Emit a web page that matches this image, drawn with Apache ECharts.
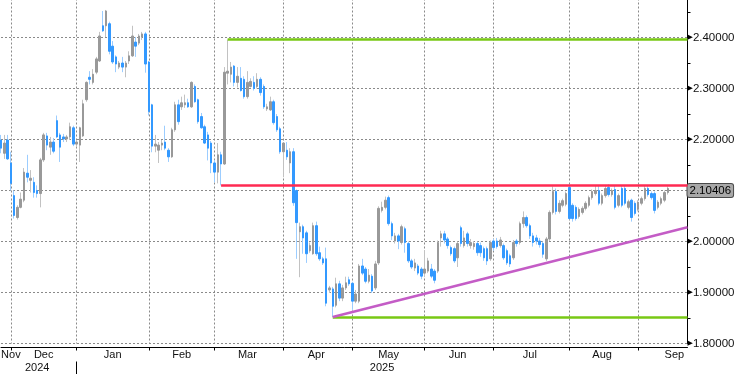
<!DOCTYPE html>
<html><head><meta charset="utf-8">
<script src="https://cdn.jsdelivr.net/npm/echarts@6/dist/echarts.min.js"></script>
<style>html,body{margin:0;padding:0;background:#fff}#c{width:736px;height:374px}</style>
</head><body><div id="c"></div>
<script>
// ---- categories (trading days) ----
const startDate = '2024-11-27';
const endDate = '2025-09-22';
const holidays = ['2024-12-25', '2024-12-26', '2025-01-01', '2025-04-18'];
const monthNames = ['Jan','Feb','Mar','Apr','May','Jun','Jul','Aug','Sep','Oct','Nov','Dec'];

// ---- series values (OHLC) ----
const opens = [
2.199,2.173,2.199,2.154,2.090,2.047,2.067,2.081,2.134,2.120,
2.116,2.100,2.094,2.160,2.207,2.185,2.195,2.237,2.209,2.205,
2.201,2.205,2.223,2.191,2.189,2.207,2.278,2.322,2.312,2.332,
2.354,2.423,2.423,2.427,2.383,2.362,2.342,2.350,2.342,2.354,
2.364,2.391,2.389,2.401,2.407,2.352,2.268,2.187,2.179,2.189,
2.195,2.179,2.166,2.219,2.268,2.264,2.268,2.272,2.264,2.304,
2.278,2.245,2.225,2.209,2.193,2.154,2.136,2.170,2.152,2.330,
2.328,2.344,2.312,2.320,2.318,2.284,2.304,2.312,2.304,2.318,
2.304,2.260,2.258,2.274,2.245,2.221,2.176,2.179,2.154,2.176,
2.100,2.019,2.029,2.017,1.982,1.976,2.031,1.978,1.966,1.966,
1.905,1.907,1.875,1.917,1.889,1.909,1.925,1.918,1.883,1.883,
1.952,1.946,1.922,1.932,1.909,1.958,2.061,2.067,2.086,2.035,
2.001,2.011,1.998,2.025,1.996,1.962,1.948,1.952,1.946,1.938,
1.942,1.946,1.942,1.942,2.007,2.015,2.005,1.988,1.986,1.968,
2.027,1.992,2.015,1.992,1.990,1.996,1.992,1.986,1.986,1.966,
2.001,2.001,1.992,1.992,1.982,1.972,1.968,2.001,1.998,2.035,
2.047,2.031,2.011,2.007,2.001,1.996,1.966,2.005,2.057,2.098,
2.059,2.071,2.073,2.106,2.071,2.067,2.049,2.057,2.065,2.071,
2.086,2.094,2.100,2.075,2.090,2.106,2.092,2.102,2.071,2.104,
2.104,2.067,2.081,2.075,2.063,2.075,2.084,2.104,2.094,2.094,
2.067,2.075,2.081,2.096];
const closes = [
2.183,2.193,2.162,2.114,2.051,2.067,2.083,2.136,2.126,2.124,
2.096,2.094,2.160,2.209,2.189,2.195,2.177,2.205,2.185,2.201,
2.205,2.225,2.191,2.195,2.223,2.270,2.312,2.318,2.328,2.358,
2.403,2.413,2.452,2.373,2.352,2.348,2.350,2.342,2.350,2.364,
2.403,2.383,2.403,2.407,2.348,2.255,2.187,2.191,2.189,2.193,
2.183,2.166,2.219,2.268,2.235,2.272,2.272,2.264,2.312,2.274,
2.235,2.223,2.193,2.183,2.154,2.136,2.170,2.152,2.332,2.334,
2.342,2.312,2.324,2.296,2.284,2.312,2.314,2.300,2.318,2.292,
2.264,2.264,2.274,2.233,2.219,2.176,2.193,2.166,2.176,2.076,
2.037,2.029,2.007,1.976,1.992,2.031,1.976,1.966,1.958,1.879,
1.909,1.873,1.917,1.889,1.909,1.919,1.917,1.883,1.897,1.952,
1.938,1.922,1.934,1.903,1.956,2.065,2.067,2.081,2.035,2.011,
2.011,2.001,2.029,1.998,1.962,1.950,1.958,1.938,1.932,1.946,
1.962,1.932,1.924,1.998,2.015,2.003,1.992,1.976,1.962,1.996,
1.996,2.007,1.996,1.998,1.996,1.978,1.978,1.968,1.962,1.998,
1.988,1.990,2.003,1.968,1.958,1.956,1.998,1.996,2.035,2.047,
2.031,2.011,1.998,2.001,1.994,1.975,2.005,2.057,2.098,2.059,
2.075,2.080,2.094,2.045,2.045,2.045,2.063,2.065,2.075,2.086,
2.098,2.100,2.075,2.090,2.104,2.092,2.100,2.067,2.090,2.071,
2.075,2.078,2.047,2.055,2.077,2.084,2.104,2.092,2.086,2.061,
2.077,2.084,2.096,2.10406];
const lows = [
2.173,2.162,2.160,2.100,2.045,2.043,2.065,2.077,2.116,2.096,
2.086,2.086,2.067,2.156,2.179,2.170,2.173,2.203,2.156,2.195,
2.195,2.199,2.187,2.185,2.156,2.205,2.274,2.308,2.308,2.328,
2.352,2.411,2.401,2.367,2.348,2.332,2.338,2.332,2.322,2.348,
2.362,2.362,2.385,2.395,2.331,2.247,2.175,2.175,2.154,2.179,
2.179,2.156,2.164,2.215,2.229,2.258,2.262,2.262,2.262,2.272,
2.231,2.221,2.191,2.159,2.134,2.116,2.114,2.110,2.150,2.308,
2.312,2.304,2.302,2.294,2.280,2.280,2.302,2.296,2.300,2.286,
2.260,2.256,2.256,2.229,2.215,2.172,2.126,2.160,2.134,2.070,
1.966,1.930,1.976,1.958,1.978,1.974,1.972,1.962,1.954,1.873,
1.899,1.852,1.871,1.883,1.883,1.905,1.913,1.866,1.879,1.879,
1.934,1.918,1.918,1.899,1.905,1.954,2.057,2.063,2.031,2.003,
1.996,1.985,1.994,1.978,1.958,1.946,1.942,1.934,1.926,1.930,
1.938,1.928,1.918,1.938,1.990,1.996,1.986,1.972,1.958,1.950,
1.990,1.988,1.990,1.986,1.984,1.972,1.970,1.962,1.954,1.962,
1.982,1.986,1.988,1.964,1.954,1.950,1.964,1.990,1.994,2.027,
2.027,2.005,1.990,1.994,1.988,1.968,1.962,2.001,2.053,2.053,
2.055,2.067,2.069,2.043,2.039,2.041,2.045,2.053,2.061,2.067,
2.082,2.090,2.071,2.071,2.086,2.088,2.088,2.063,2.067,2.067,
2.071,2.063,2.039,2.051,2.059,2.071,2.080,2.088,2.082,2.055,
2.063,2.071,2.077,2.092];
const highs = [
2.209,2.209,2.209,2.176,2.100,2.071,2.096,2.144,2.170,2.140,
2.126,2.110,2.164,2.213,2.213,2.205,2.203,2.247,2.213,2.211,
2.209,2.233,2.227,2.199,2.225,2.278,2.314,2.334,2.338,2.362,
2.411,2.452,2.454,2.431,2.393,2.365,2.354,2.362,2.354,2.373,
2.423,2.401,2.407,2.411,2.411,2.354,2.270,2.209,2.195,2.199,
2.227,2.183,2.223,2.274,2.278,2.284,2.288,2.280,2.314,2.308,
2.280,2.252,2.229,2.215,2.197,2.160,2.193,2.176,2.342,2.396,
2.352,2.346,2.342,2.342,2.324,2.334,2.320,2.324,2.330,2.322,
2.308,2.270,2.284,2.278,2.250,2.225,2.195,2.195,2.183,2.183,
2.102,2.037,2.033,2.021,1.998,2.037,2.039,1.990,1.970,1.988,
1.913,1.911,1.929,1.923,1.915,1.931,1.931,1.921,1.905,1.956,
1.966,1.950,1.946,1.936,1.962,2.069,2.078,2.088,2.090,2.039,
2.017,2.015,2.033,2.029,2.000,1.966,1.966,1.956,1.950,1.982,
1.968,1.956,1.946,2.002,2.021,2.021,2.009,1.992,1.990,2.000,
2.031,2.021,2.019,2.005,2.001,2.000,1.998,1.990,1.990,2.002,
2.005,2.007,2.009,1.996,1.986,1.976,2.003,2.005,2.039,2.059,
2.051,2.035,2.017,2.013,2.007,2.000,2.009,2.061,2.108,2.104,
2.081,2.084,2.098,2.112,2.075,2.071,2.067,2.069,2.079,2.090,
2.102,2.110,2.110,2.094,2.110,2.112,2.104,2.110,2.094,2.110,
2.110,2.082,2.084,2.079,2.081,2.088,2.110,2.110,2.098,2.098,
2.081,2.088,2.100,2.108];

// ---- drawn levels ----
const topLevel = { from: '2025-03-07', value: 2.396 };
const redLevel = { from: '2025-03-05', value: 2.110 };
const bottomLevel = { from: '2025-04-23', value: 1.852 };
const trendStart = ['2025-04-23', 1.852];
const trendEndValue = 2.028;
const lastPrice = closes[closes.length - 1];

// ---- y ticks ----
const yMin = 1.80, yMax = 2.50, yStep = 0.10;

// ---------- build ----------
function iso(d){ return d.toISOString().slice(0,10); }
function isTradingDay(d){ const w=d.getUTCDay(); return w!==0 && w!==6 && !holidays.includes(iso(d)); }
const dates = [];
for (let d=new Date(startDate+'T00:00:00Z'); d<=new Date(endDate+'T00:00:00Z'); d=new Date(d.getTime()+86400000)) {
  if (isTradingDay(d)) dates.push(iso(d));
}
const N = dates.length;
const lastCat = dates[N-1];

const monthStartIdx = new Set();
const labelText = {};
const seenMonths = [];
dates.forEach((s,i)=>{ const k=s.slice(0,7); if(!seenMonths.length||seenMonths[seenMonths.length-1].k!==k) seenMonths.push({k,i}); });
seenMonths.forEach((m,mi)=>{
  if (m.i>0) monthStartIdx.add(m.i);
  const y=+m.k.slice(0,4), mo=+m.k.slice(5,7)-1;
  let total=0, before=0;
  for (let d=new Date(Date.UTC(y,mo,1)); d.getUTCMonth()===mo; d=new Date(d.getTime()+86400000)) {
    if (isTradingDay(d)) { total++; if (iso(d)<dates[0]) before++; }
  }
  let mid = m.i - before + Math.floor(total/2);
  if (mid < 0) mid = seenMonths[mi+1] ? seenMonths[mi+1].i : 0;
  labelText[mid] = monthNames[mo];
});
const yearLabel = {}; const yearStart = new Set();
const yrs = [];
dates.forEach((s,i)=>{ const y=s.slice(0,4); if(!yrs.length||yrs[yrs.length-1].y!==y) yrs.push({y,i}); });
yrs.forEach((o,k)=>{ const end = yrs[k+1]? yrs[k+1].i-1 : N-1; yearLabel[Math.floor((o.i+end)/2)] = o.y; if(o.i>0) yearStart.add(o.i); });

const full = opens.map((o,i)=>[o, closes[i], lows[i], highs[i]]);
const bodies = opens.map((o,i)=>[o, closes[i], Math.min(o,closes[i]), Math.max(o,closes[i])]);

const FONT = 'Liberation Sans, Arial, sans-serif';
const dotted = { color: '#8a8a8a', width: 1, type: [2,2] };

const chart = echarts.init(document.getElementById('c'), null, { renderer: 'canvas' });
chart.setOption({
  animation: false,
  backgroundColor: '#ffffff',
  grid: { left: 1, right: 48.5, top: -13.5, bottom: 30.5, containLabel: false, outerBoundsMode: 'none' },
  xAxis: [{
    type: 'category', data: dates, boundaryGap: false, position: 'bottom', offset: 4,
    axisLine: { show: true, onZero: false, lineStyle: { color: '#000', width: 1 } },
    axisTick: { show: true, length: 3, interval: (i)=>monthStartIdx.has(i), lineStyle: { color: '#000' } },
    axisLabel: { show: true, interval: (i)=>labelText[i]!==undefined, formatter: (v,i)=>labelText[i]||'',
      color: '#111', fontSize: 11, fontFamily: FONT, margin: 2 },
    splitLine: { show: true, interval: (i)=>monthStartIdx.has(i), lineStyle: dotted }
  },{
    type: 'category', data: dates, boundaryGap: false, position: 'bottom', offset: 18,
    axisLine: { show: false, onZero: false },
    axisTick: { show: true, length: 13, interval: (i)=>yearStart.has(i), lineStyle: { color: '#000' } },
    axisLabel: { show: true, interval: (i)=>yearLabel[i]!==undefined, formatter: (v,i)=>yearLabel[i]||'',
      color: '#111', fontSize: 11, fontFamily: FONT, margin: 1 },
    splitLine: { show: false }
  }],
  yAxis: {
    type: 'value', position: 'right', min: yMin, max: yMax, interval: yStep,
    axisLine: { show: true, lineStyle: { color: '#000', width: 1 } },
    axisTick: { show: false },
    minorTick: { show: true, splitNumber: 2, length: 3, lineStyle: { color: '#000' } },
    minorSplitLine: { show: false },
    axisLabel: { margin: 0, formatter: (v)=>'{t|\u25B6}{v|' + v.toFixed(5) + '}',
      rich: { t: { fontSize: 7, color: '#000', fontFamily: 'DejaVu Sans', padding: [0,0,0,0] },
              v: { fontSize: 11.5, color: '#111', fontFamily: FONT } } },
    splitLine: { show: true, lineStyle: dotted }
  },
  series: [{
    name: 'wick', type: 'candlestick', data: full, barWidth: 1, z: 2,
    itemStyle: { color: '#c2c2c2', color0: '#9ccdff', borderColor: '#c2c2c2', borderColor0: '#9ccdff', borderWidth: 1 }
  },{
    name: 'body', type: 'candlestick', data: bodies, barWidth: 2, z: 3,
    itemStyle: { color: '#999999', color0: '#3399ff', borderColor: '#999999', borderColor0: '#3399ff', borderWidth: 1 },
    markLine: {
      silent: true, symbol: ['none','none'], animation: false, z: 10,
      data: [
        [{ coord: [topLevel.from, topLevel.value], lineStyle: { color: '#78c814', width: 2.5, type: 'solid' } }, { coord: [lastCat, topLevel.value] }],
        [{ coord: [redLevel.from, redLevel.value], lineStyle: { color: '#ff2a52', width: 2.5, type: 'solid' } }, { coord: [lastCat, redLevel.value] }],
        [{ coord: [bottomLevel.from, bottomLevel.value], lineStyle: { color: '#78c814', width: 2.5, type: 'solid' } }, { coord: [lastCat, bottomLevel.value] }],
        [{ coord: trendStart, lineStyle: { color: '#c45cc6', width: 2.5, type: 'solid' } }, { coord: [lastCat, trendEndValue] }]
      ],
      label: { show: false }
    }
  },{
    name: 'last', type: 'line', data: [], silent: true, z: 20,
    markLine: {
      silent: true, symbol: ['none','none'], animation: false,
      lineStyle: { color: 'rgba(0,0,0,0)', width: 1, type: 'solid' },
      data: [{ yAxis: lastPrice }],
      label: { show: true, position: 'end', distance: 0, formatter: ()=>lastPrice.toFixed(5),
        color: '#000', fontSize: 11.5, fontFamily: FONT, backgroundColor: '#a8a8a8',
        borderColor: '#4a4a4a', borderWidth: 1, borderRadius: 2, padding: [1,2,0,2] }
    }
  }]
});
</script></body></html>
